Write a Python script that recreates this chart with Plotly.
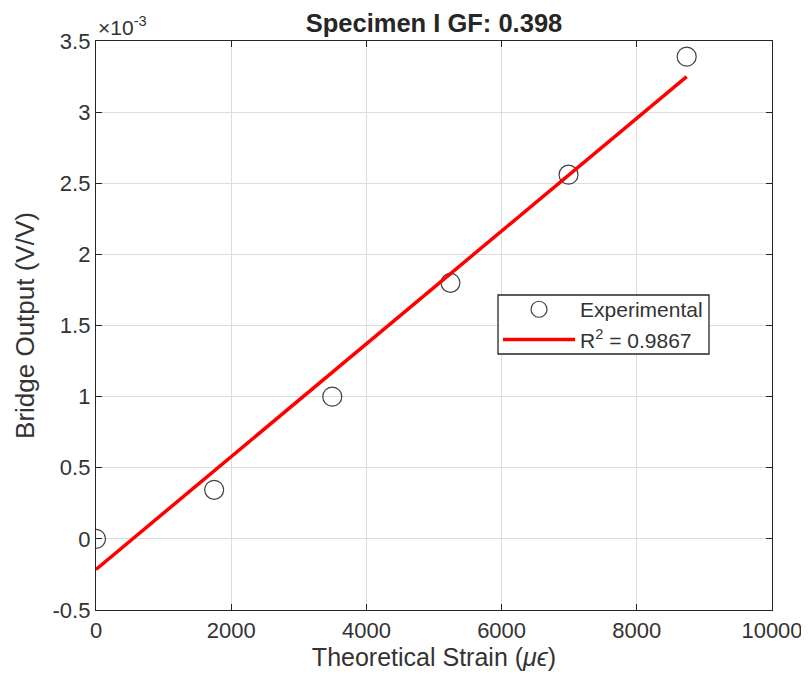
import plotly.graph_objects as go

# Data (bridge output in units of 1e-3 V/V)
strain = [0, 1748, 3495, 5243, 6990, 8738]
bridge_output = [0.0, 0.345, 1.0, 1.8, 2.56, 3.39]
fit_strain = [0, 8738]
fit_output = [-0.215, 3.25]
x_ticks = [0, 2000, 4000, 6000, 8000, 10000]
y_ticks = [-0.5, 0, 0.5, 1, 1.5, 2, 2.5, 3, 3.5]
y_tick_text = ["-0.5", "0", "0.5", "1", "1.5", "2", "2.5", "3", "3.5"]

FONT = "Liberation Sans, Arial, sans-serif"
AX = "#262626"
TXT = "#333333"

# page body has an 8px margin, so the figure is 8px smaller than the window
W, H = 801, 669
L, T, R, B = 88, 33, 37, 67

fig = go.Figure()
fig.add_trace(go.Scatter(
    x=strain, y=bridge_output, mode="markers", name="Experimental",
    marker=dict(symbol="circle-open", size=19, color="#404040", line=dict(width=1.2)),
))
fig.add_trace(go.Scatter(
    x=fit_strain, y=fit_output, mode="lines", name="R<sup>2</sup> = 0.9867",
    line=dict(color="#ff0000", width=3.5),
))

axis_common = dict(
    showgrid=True, gridcolor="#dcdcdc", gridwidth=1,
    showline=True, linecolor=AX, linewidth=1.3, mirror="allticks",
    ticks="inside", ticklen=6, tickcolor=AX, tickwidth=1,
    tickfont=dict(family=FONT, size=22, color=TXT),
    zeroline=False, automargin=False,
)

fig.update_layout(
    width=W, height=H,
    paper_bgcolor="white", plot_bgcolor="white",
    margin=dict(l=L, r=R, t=T, b=B),
    font=dict(family=FONT, color=TXT),
    title=dict(text="<b>Specimen I GF: 0.398</b>", x=0.5, xref="paper", xanchor="center",
               y=1, yref="paper", yanchor="bottom", pad=dict(b=9),
               font=dict(family=FONT, size=25.5, color="#262626")),
    xaxis=dict(range=[0, 10000], tickvals=x_ticks, ticktext=[str(v) for v in x_ticks],
               title=dict(text="Theoretical Strain (<i>μϵ</i>)", standoff=0,
                          font=dict(family=FONT, size=25, color=TXT)),
               **axis_common),
    yaxis=dict(range=[-0.5, 3.5], tickvals=y_ticks, ticktext=y_tick_text,
               title=dict(text="Bridge Output (V/V)", standoff=10,
                          font=dict(family=FONT, size=26, color=TXT)),
               **axis_common),
    legend=dict(x=0.5947, y=0.564, xanchor="left", yanchor="top",
                bgcolor="rgba(0,0,0,0)", borderwidth=0,
                font=dict(family=FONT, size=21, color=TXT),
                tracegroupgap=0, itemwidth=72),
    showlegend=True,
    shapes=[dict(type="rect", xref="paper", yref="paper",
                 x0=0.5947, x1=0.9068, y0=0.4499, y1=0.5536,
                 line=dict(color=AX, width=1.3), fillcolor="white", layer="above")],
)

fig.add_annotation(text="×10<sup>-3</sup>", xref="paper", yref="paper", x=0, y=1,
                   xanchor="left", yanchor="bottom", showarrow=False, yshift=0,
                   font=dict(family=FONT, size=21, color=TXT))

fig.write_html("out.html")
